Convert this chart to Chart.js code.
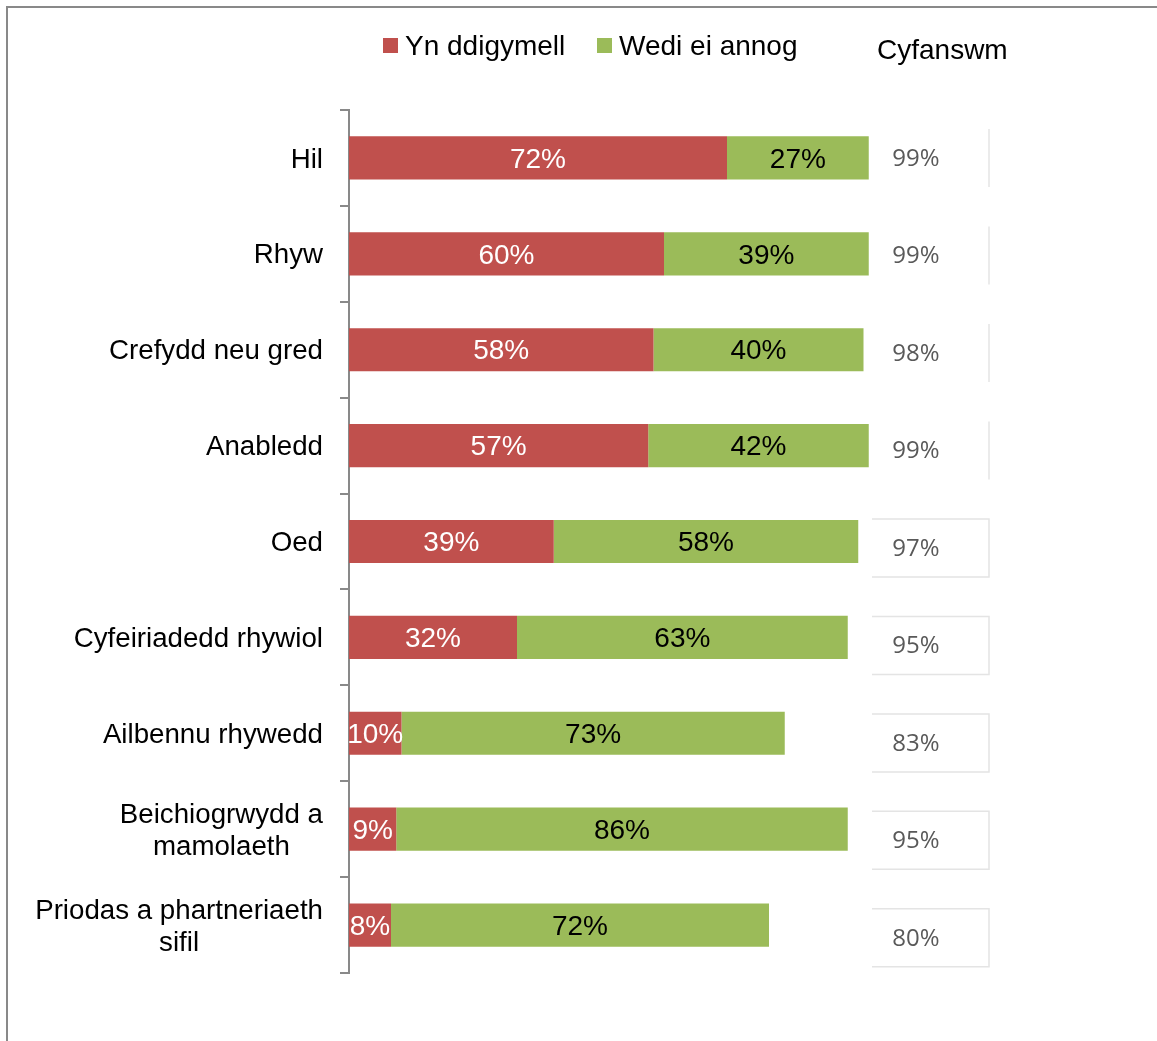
<!DOCTYPE html>
<html>
<head>
<meta charset="utf-8">
<script src="https://cdn.jsdelivr.net/npm/chart.js@4/dist/chart.umd.min.js"></script>
<style>
  body { margin: 0; background: #fff; }
  canvas { display: block; }
</style>
</head>
<body>
<canvas id="reasonsChart" width="1157" height="1041"></canvas>
<script>
  const categories = ['Hil', 'Rhyw', 'Crefydd neu gred', 'Anabledd', 'Oed', 'Cyfeiriadedd rhywiol',
                      'Ailbennu rhywedd', ['Beichiogrwydd a', 'mamolaeth'], ['Priodas a phartneriaeth', 'sifil']];
  const spontaneous = [72, 60, 58, 57, 39, 32, 10, 9, 8];
  const prompted = [27, 39, 40, 42, 58, 63, 73, 86, 72];
  const totals = [99, 99, 98, 99, 97, 95, 83, 95, 80];
  const seriesNames = ['Yn ddigymell', 'Wedi ei annog'];
  const totalTitle = 'Cyfanswm';

  const RED = '#C0504D';
  const GREEN = '#9BBB59';
  const AXIS = '#898989';
  const FONT = '"Liberation Sans", Arial, sans-serif';

  // frame, legend, category labels, value labels and totals column
  const extras = {
    id: 'extras',
    beforeDraw(chart) {
      const c = chart.ctx;
      c.save();
      c.fillStyle = '#fff';
      c.fillRect(0, 0, chart.width, chart.height);
      c.fillStyle = AXIS;
      c.fillRect(6, 6, chart.width, 2);
      c.fillRect(6, 6, 2, chart.height);
      c.restore();
    },
    afterDraw(chart) {
      const c = chart.ctx;
      const yScale = chart.scales.y;
      c.save();

      // legend
      c.font = '28px ' + FONT;
      c.textBaseline = 'middle';
      c.textAlign = 'left';
      const legendX = [383, 597];
      chart.data.datasets.forEach((ds, i) => {
        c.fillStyle = ds.backgroundColor;
        c.fillRect(legendX[i], 38, 15, 15);
        c.fillStyle = '#000';
        c.fillText(ds.label, legendX[i] + 22, 47);
      });
      c.fillText(totalTitle, 877, 51);

      // category labels: block right aligned, lines centred
      c.font = '27.7px ' + FONT;
      categories.forEach((lab, i) => {
        const lines = Array.isArray(lab) ? lab : [lab];
        const w = Math.max(...lines.map(l => c.measureText(l).width));
        const cx = 323 - w / 2;
        const y = yScale.getPixelForValue(i) + 2;
        c.textAlign = 'center';
        c.fillStyle = '#000';
        lines.forEach((l, k) => {
          c.fillText(l, cx, y + (k - (lines.length - 1) / 2) * 32);
        });
      });

      // value labels inside bars
      c.font = '28px ' + FONT;
      c.textAlign = 'center';
      chart.data.datasets.forEach((ds, di) => {
        const meta = chart.getDatasetMeta(di);
        c.fillStyle = di === 0 ? '#fff' : '#000';
        meta.data.forEach((bar, i) => {
          c.fillText(ds.data[i] + '%', (bar.x + bar.base) / 2, bar.y + 2);
        });
      });

      // totals column
      c.font = '24px "Open Sans", sans-serif';
      totals.forEach((t, i) => {
        const y = yScale.getPixelForValue(i) + i * 1.6;
        c.strokeStyle = '#e4e4e4';
        c.lineWidth = 1.5;
        c.beginPath();
        if (i >= 4) {
          c.moveTo(872, y - 29);
          c.lineTo(989, y - 29);
          c.lineTo(989, y + 29);
          c.lineTo(872, y + 29);
        } else {
          c.moveTo(989, y - 29);
          c.lineTo(989, y + 29);
        }
        c.stroke();
        c.fillStyle = '#595959';
        c.fillText(t + '%', 916, y + 1);
      });
      c.restore();
    }
  };

  const ctx = document.getElementById('reasonsChart').getContext('2d');
  const reasonsChart = new Chart(ctx, {
    type: 'bar',
    data: {
      labels: categories,
      datasets: [{
        label: seriesNames[0],
        data: spontaneous,
        backgroundColor: RED,
        borderWidth: 0
      }, {
        label: seriesNames[1],
        data: prompted,
        backgroundColor: GREEN,
        borderWidth: 0
      }]
    },
    options: {
      indexAxis: 'y',
      responsive: false,
      animation: false,
      devicePixelRatio: 1,
      categoryPercentage: 1,
      barPercentage: 0.45,
      layout: { padding: { top: 110, bottom: 68, left: 0, right: 283 } },
      plugins: { legend: { display: false }, tooltip: { enabled: false } },
      scales: {
        x: { stacked: true, min: 0, max: 100, display: false },
        y: {
          stacked: true,
          ticks: { display: false },
          grid: { drawOnChartArea: false, drawTicks: true, tickLength: 9, color: AXIS, lineWidth: 2 },
          border: { display: true, color: AXIS, width: 2 },
          afterFit(scale) { scale.width = 349; }
        }
      }
    },
    plugins: [extras]
  });
</script>
</body>
</html>
